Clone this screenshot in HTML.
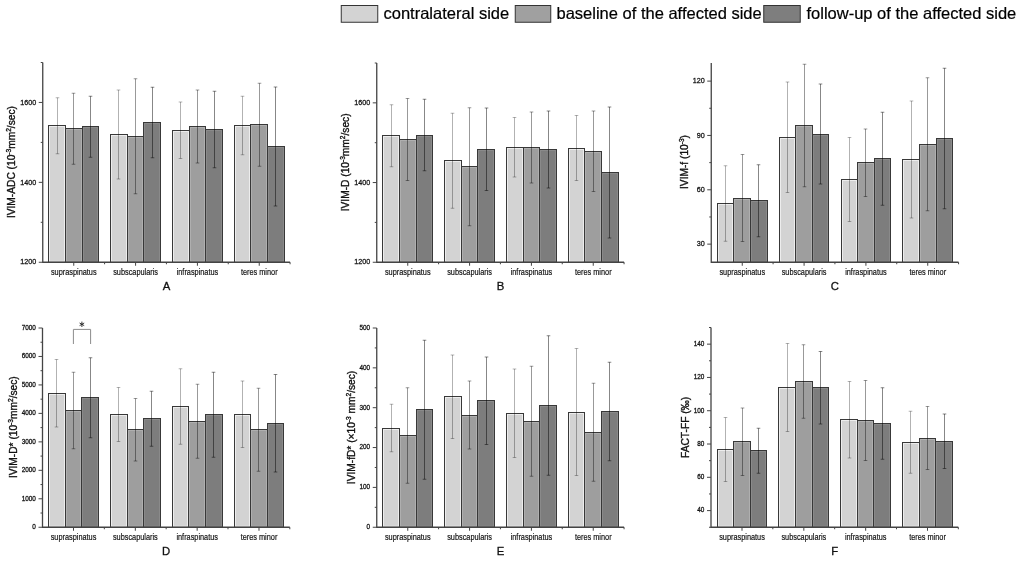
<!DOCTYPE html>
<html><head><meta charset="utf-8"><style>
html,body{margin:0;padding:0;background:#fff;}
svg{display:block;will-change:transform;}
text{font-family:"Liberation Sans",sans-serif;fill:#111;stroke:#111;stroke-width:0.25px;}
.tl{}
.cl{font-size:7.35px;stroke-width:0.15px;}
.lt{font-size:11.3px;stroke-width:0.3px;}
.yt{font-size:10.2px;stroke-width:0.35px;}
.lg{font-size:16.5px;fill:#000;stroke:#000;stroke-width:0.2px;}
.ast{font-size:11px;}
</style></head><body>
<svg width="1022" height="561" viewBox="0 0 1022 561">
<rect width="1022" height="561" fill="#fff"/>

<rect x="341.25" y="5.5" width="36.5" height="16.75" fill="#d3d3d3" stroke="#333" stroke-width="1"/>
<text x="383.5" y="19.3" class="lg">contralateral side</text>
<rect x="515.25" y="5.5" width="35.5" height="16.75" fill="#a0a0a0" stroke="#333" stroke-width="1"/>
<text x="556.5" y="19.3" class="lg">baseline of the affected side</text>
<rect x="763.75" y="5.5" width="36.5" height="16.75" fill="#7e7e7e" stroke="#333" stroke-width="1"/>
<text x="806.5" y="19.3" class="lg">follow-up of the affected side</text>


<path d="M73.4 344V329.4H90.6V344" stroke="#8c8c8c" stroke-width="1" fill="none"/>
<path d="M81.9 321.6V327M79.6 323L84.2 325.6M79.6 325.6L84.2 323" stroke="#222" stroke-width="0.9" fill="none"/>

<rect x="48.50" y="125.50" width="17.00" height="136.75" fill="#d3d3d3" stroke="#383838" stroke-width="1"/>
<rect x="49.50" y="126.50" width="15.00" height="134.75" fill="none" stroke="#fff" stroke-opacity="0.6" stroke-width="1"/>
<rect x="65.50" y="128.50" width="17.00" height="133.75" fill="#9e9e9e" stroke="#383838" stroke-width="1"/>
<rect x="66.50" y="129.50" width="15.00" height="131.75" fill="none" stroke="#fff" stroke-opacity="0.18" stroke-width="1"/>
<rect x="82.50" y="126.50" width="16.00" height="135.75" fill="#7d7d7d" stroke="#383838" stroke-width="1"/>
<rect x="83.50" y="127.50" width="14.00" height="133.75" fill="none" stroke="#fff" stroke-opacity="0.1" stroke-width="1"/>
<rect x="110.50" y="134.50" width="17.00" height="127.75" fill="#d3d3d3" stroke="#383838" stroke-width="1"/>
<rect x="111.50" y="135.50" width="15.00" height="125.75" fill="none" stroke="#fff" stroke-opacity="0.6" stroke-width="1"/>
<rect x="127.50" y="136.50" width="16.00" height="125.75" fill="#9e9e9e" stroke="#383838" stroke-width="1"/>
<rect x="128.50" y="137.50" width="14.00" height="123.75" fill="none" stroke="#fff" stroke-opacity="0.18" stroke-width="1"/>
<rect x="143.50" y="122.50" width="17.00" height="139.75" fill="#7d7d7d" stroke="#383838" stroke-width="1"/>
<rect x="144.50" y="123.50" width="15.00" height="137.75" fill="none" stroke="#fff" stroke-opacity="0.1" stroke-width="1"/>
<rect x="172.50" y="130.50" width="17.00" height="131.75" fill="#d3d3d3" stroke="#383838" stroke-width="1"/>
<rect x="173.50" y="131.50" width="15.00" height="129.75" fill="none" stroke="#fff" stroke-opacity="0.6" stroke-width="1"/>
<rect x="189.50" y="126.50" width="16.00" height="135.75" fill="#9e9e9e" stroke="#383838" stroke-width="1"/>
<rect x="190.50" y="127.50" width="14.00" height="133.75" fill="none" stroke="#fff" stroke-opacity="0.18" stroke-width="1"/>
<rect x="205.50" y="129.50" width="17.00" height="132.75" fill="#7d7d7d" stroke="#383838" stroke-width="1"/>
<rect x="206.50" y="130.50" width="15.00" height="130.75" fill="none" stroke="#fff" stroke-opacity="0.1" stroke-width="1"/>
<rect x="234.50" y="125.50" width="16.00" height="136.75" fill="#d3d3d3" stroke="#383838" stroke-width="1"/>
<rect x="235.50" y="126.50" width="14.00" height="134.75" fill="none" stroke="#fff" stroke-opacity="0.6" stroke-width="1"/>
<rect x="250.50" y="124.50" width="17.00" height="137.75" fill="#9e9e9e" stroke="#383838" stroke-width="1"/>
<rect x="251.50" y="125.50" width="15.00" height="135.75" fill="none" stroke="#fff" stroke-opacity="0.18" stroke-width="1"/>
<rect x="267.50" y="146.50" width="17.00" height="115.75" fill="#7d7d7d" stroke="#383838" stroke-width="1"/>
<rect x="268.50" y="147.50" width="15.00" height="113.75" fill="none" stroke="#fff" stroke-opacity="0.1" stroke-width="1"/>
<path d="M57.50 97.75V153.75M55.70 97.75H59.30M55.70 153.75H59.30" stroke="#000" stroke-opacity="0.3" stroke-width="1" fill="none"/>
<path d="M73.50 93.25V164.25M71.70 93.25H75.30M71.70 164.25H75.30" stroke="#000" stroke-opacity="0.4" stroke-width="1" fill="none"/>
<path d="M90.50 96.25V157.25M88.70 96.25H92.30M88.70 157.25H92.30" stroke="#000" stroke-opacity="0.47" stroke-width="1" fill="none"/>
<path d="M118.50 90.00V179.00M116.70 90.00H120.30M116.70 179.00H120.30" stroke="#000" stroke-opacity="0.3" stroke-width="1" fill="none"/>
<path d="M135.50 78.75V193.75M133.70 78.75H137.30M133.70 193.75H137.30" stroke="#000" stroke-opacity="0.4" stroke-width="1" fill="none"/>
<path d="M152.50 87.25V157.75M150.70 87.25H154.30M150.70 157.75H154.30" stroke="#000" stroke-opacity="0.47" stroke-width="1" fill="none"/>
<path d="M180.50 102.00V158.50M178.70 102.00H182.30M178.70 158.50H182.30" stroke="#000" stroke-opacity="0.3" stroke-width="1" fill="none"/>
<path d="M197.50 90.00V163.00M195.70 90.00H199.30M195.70 163.00H199.30" stroke="#000" stroke-opacity="0.4" stroke-width="1" fill="none"/>
<path d="M214.50 91.25V167.75M212.70 91.25H216.30M212.70 167.75H216.30" stroke="#000" stroke-opacity="0.47" stroke-width="1" fill="none"/>
<path d="M242.50 96.25V154.75M240.70 96.25H244.30M240.70 154.75H244.30" stroke="#000" stroke-opacity="0.3" stroke-width="1" fill="none"/>
<path d="M259.50 83.25V166.25M257.70 83.25H261.30M257.70 166.25H261.30" stroke="#000" stroke-opacity="0.4" stroke-width="1" fill="none"/>
<path d="M275.50 87.00V206.00M273.70 87.00H277.30M273.70 206.00H277.30" stroke="#000" stroke-opacity="0.47" stroke-width="1" fill="none"/>
<path d="M42.75 62.50V262.25H290.07" stroke="#444" stroke-width="1.3" fill="none"/>
<path d="M38.75 262.25H42.75" stroke="#444" stroke-width="1"/>
<text transform="translate(36.15 264.44) scale(1 1.12)" class="tl" font-size="7.2" text-anchor="end">1200</text>
<path d="M40.75 222.30H42.75" stroke="#444" stroke-width="1"/>
<path d="M38.75 182.35H42.75" stroke="#444" stroke-width="1"/>
<text transform="translate(36.15 184.54) scale(1 1.12)" class="tl" font-size="7.2" text-anchor="end">1400</text>
<path d="M40.75 142.40H42.75" stroke="#444" stroke-width="1"/>
<path d="M38.75 102.45H42.75" stroke="#444" stroke-width="1"/>
<text transform="translate(36.15 104.64) scale(1 1.12)" class="tl" font-size="7.2" text-anchor="end">1600</text>
<path d="M40.75 62.50H42.75" stroke="#444" stroke-width="1"/>
<path d="M73.75 262.25V265.75" stroke="#444" stroke-width="1"/>
<path d="M104.58 262.25V264.25" stroke="#444" stroke-width="1"/>
<text transform="translate(73.75 274.75) scale(1 1.25)" class="cl" text-anchor="middle">supraspinatus</text>
<path d="M135.58 262.25V265.75" stroke="#444" stroke-width="1"/>
<path d="M166.41 262.25V264.25" stroke="#444" stroke-width="1"/>
<text transform="translate(135.58 274.75) scale(1 1.25)" class="cl" text-anchor="middle">subscapularis</text>
<path d="M197.41 262.25V265.75" stroke="#444" stroke-width="1"/>
<path d="M228.24 262.25V264.25" stroke="#444" stroke-width="1"/>
<text transform="translate(197.41 274.75) scale(1 1.25)" class="cl" text-anchor="middle">infraspinatus</text>
<path d="M259.24 262.25V265.75" stroke="#444" stroke-width="1"/>
<path d="M290.07 262.25V264.25" stroke="#444" stroke-width="1"/>
<text transform="translate(259.24 274.75) scale(1 1.25)" class="cl" text-anchor="middle">teres minor</text>
<text x="166.41" y="290.00" class="lt" text-anchor="middle">A</text>
<text transform="translate(15.30 162.10) rotate(-90)" class="yt" text-anchor="middle">IVIM-ADC (10<tspan baseline-shift="3.7" font-size="6.6">-3</tspan>mm<tspan baseline-shift="3.7" font-size="6.6">2</tspan>/sec)</text><rect x="382.50" y="135.50" width="17.00" height="126.75" fill="#d3d3d3" stroke="#383838" stroke-width="1"/>
<rect x="383.50" y="136.50" width="15.00" height="124.75" fill="none" stroke="#fff" stroke-opacity="0.6" stroke-width="1"/>
<rect x="399.50" y="139.50" width="17.00" height="122.75" fill="#9e9e9e" stroke="#383838" stroke-width="1"/>
<rect x="400.50" y="140.50" width="15.00" height="120.75" fill="none" stroke="#fff" stroke-opacity="0.18" stroke-width="1"/>
<rect x="416.50" y="135.50" width="16.00" height="126.75" fill="#7d7d7d" stroke="#383838" stroke-width="1"/>
<rect x="417.50" y="136.50" width="14.00" height="124.75" fill="none" stroke="#fff" stroke-opacity="0.1" stroke-width="1"/>
<rect x="444.50" y="160.50" width="17.00" height="101.75" fill="#d3d3d3" stroke="#383838" stroke-width="1"/>
<rect x="445.50" y="161.50" width="15.00" height="99.75" fill="none" stroke="#fff" stroke-opacity="0.6" stroke-width="1"/>
<rect x="461.50" y="166.50" width="16.00" height="95.75" fill="#9e9e9e" stroke="#383838" stroke-width="1"/>
<rect x="462.50" y="167.50" width="14.00" height="93.75" fill="none" stroke="#fff" stroke-opacity="0.18" stroke-width="1"/>
<rect x="477.50" y="149.50" width="17.00" height="112.75" fill="#7d7d7d" stroke="#383838" stroke-width="1"/>
<rect x="478.50" y="150.50" width="15.00" height="110.75" fill="none" stroke="#fff" stroke-opacity="0.1" stroke-width="1"/>
<rect x="506.50" y="147.50" width="17.00" height="114.75" fill="#d3d3d3" stroke="#383838" stroke-width="1"/>
<rect x="507.50" y="148.50" width="15.00" height="112.75" fill="none" stroke="#fff" stroke-opacity="0.6" stroke-width="1"/>
<rect x="523.50" y="147.50" width="16.00" height="114.75" fill="#9e9e9e" stroke="#383838" stroke-width="1"/>
<rect x="524.50" y="148.50" width="14.00" height="112.75" fill="none" stroke="#fff" stroke-opacity="0.18" stroke-width="1"/>
<rect x="539.50" y="149.50" width="17.00" height="112.75" fill="#7d7d7d" stroke="#383838" stroke-width="1"/>
<rect x="540.50" y="150.50" width="15.00" height="110.75" fill="none" stroke="#fff" stroke-opacity="0.1" stroke-width="1"/>
<rect x="568.50" y="148.50" width="16.00" height="113.75" fill="#d3d3d3" stroke="#383838" stroke-width="1"/>
<rect x="569.50" y="149.50" width="14.00" height="111.75" fill="none" stroke="#fff" stroke-opacity="0.6" stroke-width="1"/>
<rect x="584.50" y="151.50" width="17.00" height="110.75" fill="#9e9e9e" stroke="#383838" stroke-width="1"/>
<rect x="585.50" y="152.50" width="15.00" height="108.75" fill="none" stroke="#fff" stroke-opacity="0.18" stroke-width="1"/>
<rect x="601.50" y="172.50" width="17.00" height="89.75" fill="#7d7d7d" stroke="#383838" stroke-width="1"/>
<rect x="602.50" y="173.50" width="15.00" height="87.75" fill="none" stroke="#fff" stroke-opacity="0.1" stroke-width="1"/>
<path d="M391.50 104.75V166.75M389.70 104.75H393.30M389.70 166.75H393.30" stroke="#000" stroke-opacity="0.3" stroke-width="1" fill="none"/>
<path d="M407.50 98.50V180.50M405.70 98.50H409.30M405.70 180.50H409.30" stroke="#000" stroke-opacity="0.4" stroke-width="1" fill="none"/>
<path d="M424.50 99.25V170.75M422.70 99.25H426.30M422.70 170.75H426.30" stroke="#000" stroke-opacity="0.47" stroke-width="1" fill="none"/>
<path d="M452.50 113.25V208.25M450.70 113.25H454.30M450.70 208.25H454.30" stroke="#000" stroke-opacity="0.3" stroke-width="1" fill="none"/>
<path d="M469.50 107.75V225.75M467.70 107.75H471.30M467.70 225.75H471.30" stroke="#000" stroke-opacity="0.4" stroke-width="1" fill="none"/>
<path d="M486.50 108.00V190.50M484.70 108.00H488.30M484.70 190.50H488.30" stroke="#000" stroke-opacity="0.47" stroke-width="1" fill="none"/>
<path d="M514.50 117.50V177.00M512.70 117.50H516.30M512.70 177.00H516.30" stroke="#000" stroke-opacity="0.3" stroke-width="1" fill="none"/>
<path d="M531.50 112.00V183.00M529.70 112.00H533.30M529.70 183.00H533.30" stroke="#000" stroke-opacity="0.4" stroke-width="1" fill="none"/>
<path d="M548.50 111.00V188.00M546.70 111.00H550.30M546.70 188.00H550.30" stroke="#000" stroke-opacity="0.47" stroke-width="1" fill="none"/>
<path d="M576.50 115.50V180.50M574.70 115.50H578.30M574.70 180.50H578.30" stroke="#000" stroke-opacity="0.3" stroke-width="1" fill="none"/>
<path d="M593.50 111.00V191.50M591.70 111.00H595.30M591.70 191.50H595.30" stroke="#000" stroke-opacity="0.4" stroke-width="1" fill="none"/>
<path d="M609.50 107.00V238.00M607.70 107.00H611.30M607.70 238.00H611.30" stroke="#000" stroke-opacity="0.47" stroke-width="1" fill="none"/>
<path d="M376.75 63.00V262.25H624.07" stroke="#444" stroke-width="1.3" fill="none"/>
<path d="M372.75 262.25H376.75" stroke="#444" stroke-width="1"/>
<text transform="translate(370.15 264.44) scale(1 1.12)" class="tl" font-size="7.2" text-anchor="end">1200</text>
<path d="M374.75 222.40H376.75" stroke="#444" stroke-width="1"/>
<path d="M372.75 182.55H376.75" stroke="#444" stroke-width="1"/>
<text transform="translate(370.15 184.74) scale(1 1.12)" class="tl" font-size="7.2" text-anchor="end">1400</text>
<path d="M374.75 142.70H376.75" stroke="#444" stroke-width="1"/>
<path d="M372.75 102.85H376.75" stroke="#444" stroke-width="1"/>
<text transform="translate(370.15 105.04) scale(1 1.12)" class="tl" font-size="7.2" text-anchor="end">1600</text>
<path d="M374.75 63.00H376.75" stroke="#444" stroke-width="1"/>
<path d="M407.75 262.25V265.75" stroke="#444" stroke-width="1"/>
<path d="M438.58 262.25V264.25" stroke="#444" stroke-width="1"/>
<text transform="translate(407.75 274.75) scale(1 1.25)" class="cl" text-anchor="middle">supraspinatus</text>
<path d="M469.58 262.25V265.75" stroke="#444" stroke-width="1"/>
<path d="M500.41 262.25V264.25" stroke="#444" stroke-width="1"/>
<text transform="translate(469.58 274.75) scale(1 1.25)" class="cl" text-anchor="middle">subscapularis</text>
<path d="M531.41 262.25V265.75" stroke="#444" stroke-width="1"/>
<path d="M562.24 262.25V264.25" stroke="#444" stroke-width="1"/>
<text transform="translate(531.41 274.75) scale(1 1.25)" class="cl" text-anchor="middle">infraspinatus</text>
<path d="M593.24 262.25V265.75" stroke="#444" stroke-width="1"/>
<path d="M624.07 262.25V264.25" stroke="#444" stroke-width="1"/>
<text transform="translate(593.24 274.75) scale(1 1.25)" class="cl" text-anchor="middle">teres minor</text>
<text x="500.41" y="290.00" class="lt" text-anchor="middle">B</text>
<text transform="translate(349.40 162.35) rotate(-90)" class="yt" text-anchor="middle">IVIM-D (10<tspan baseline-shift="3.7" font-size="6.6">-3</tspan>mm<tspan baseline-shift="3.7" font-size="6.6">2</tspan>/sec)</text><rect x="717.50" y="203.50" width="16.00" height="58.75" fill="#d3d3d3" stroke="#383838" stroke-width="1"/>
<rect x="718.50" y="204.50" width="14.00" height="56.75" fill="none" stroke="#fff" stroke-opacity="0.6" stroke-width="1"/>
<rect x="733.50" y="198.50" width="17.00" height="63.75" fill="#9e9e9e" stroke="#383838" stroke-width="1"/>
<rect x="734.50" y="199.50" width="15.00" height="61.75" fill="none" stroke="#fff" stroke-opacity="0.18" stroke-width="1"/>
<rect x="750.50" y="200.50" width="17.00" height="61.75" fill="#7d7d7d" stroke="#383838" stroke-width="1"/>
<rect x="751.50" y="201.50" width="15.00" height="59.75" fill="none" stroke="#fff" stroke-opacity="0.1" stroke-width="1"/>
<rect x="779.50" y="137.50" width="16.00" height="124.75" fill="#d3d3d3" stroke="#383838" stroke-width="1"/>
<rect x="780.50" y="138.50" width="14.00" height="122.75" fill="none" stroke="#fff" stroke-opacity="0.6" stroke-width="1"/>
<rect x="795.50" y="125.50" width="17.00" height="136.75" fill="#9e9e9e" stroke="#383838" stroke-width="1"/>
<rect x="796.50" y="126.50" width="15.00" height="134.75" fill="none" stroke="#fff" stroke-opacity="0.18" stroke-width="1"/>
<rect x="812.50" y="134.50" width="16.00" height="127.75" fill="#7d7d7d" stroke="#383838" stroke-width="1"/>
<rect x="813.50" y="135.50" width="14.00" height="125.75" fill="none" stroke="#fff" stroke-opacity="0.1" stroke-width="1"/>
<rect x="841.50" y="179.50" width="16.00" height="82.75" fill="#d3d3d3" stroke="#383838" stroke-width="1"/>
<rect x="842.50" y="180.50" width="14.00" height="80.75" fill="none" stroke="#fff" stroke-opacity="0.6" stroke-width="1"/>
<rect x="857.50" y="162.50" width="17.00" height="99.75" fill="#9e9e9e" stroke="#383838" stroke-width="1"/>
<rect x="858.50" y="163.50" width="15.00" height="97.75" fill="none" stroke="#fff" stroke-opacity="0.18" stroke-width="1"/>
<rect x="874.50" y="158.50" width="16.00" height="103.75" fill="#7d7d7d" stroke="#383838" stroke-width="1"/>
<rect x="875.50" y="159.50" width="14.00" height="101.75" fill="none" stroke="#fff" stroke-opacity="0.1" stroke-width="1"/>
<rect x="902.50" y="159.50" width="17.00" height="102.75" fill="#d3d3d3" stroke="#383838" stroke-width="1"/>
<rect x="903.50" y="160.50" width="15.00" height="100.75" fill="none" stroke="#fff" stroke-opacity="0.6" stroke-width="1"/>
<rect x="919.50" y="144.50" width="17.00" height="117.75" fill="#9e9e9e" stroke="#383838" stroke-width="1"/>
<rect x="920.50" y="145.50" width="15.00" height="115.75" fill="none" stroke="#fff" stroke-opacity="0.18" stroke-width="1"/>
<rect x="936.50" y="138.50" width="16.00" height="123.75" fill="#7d7d7d" stroke="#383838" stroke-width="1"/>
<rect x="937.50" y="139.50" width="14.00" height="121.75" fill="none" stroke="#fff" stroke-opacity="0.1" stroke-width="1"/>
<path d="M725.50 165.75V241.25M723.70 165.75H727.30M723.70 241.25H727.30" stroke="#000" stroke-opacity="0.3" stroke-width="1" fill="none"/>
<path d="M742.50 154.50V241.50M740.70 154.50H744.30M740.70 241.50H744.30" stroke="#000" stroke-opacity="0.4" stroke-width="1" fill="none"/>
<path d="M758.50 164.75V236.75M756.70 164.75H760.30M756.70 236.75H760.30" stroke="#000" stroke-opacity="0.47" stroke-width="1" fill="none"/>
<path d="M787.50 82.00V192.50M785.70 82.00H789.30M785.70 192.50H789.30" stroke="#000" stroke-opacity="0.3" stroke-width="1" fill="none"/>
<path d="M804.50 64.25V186.75M802.70 64.25H806.30M802.70 186.75H806.30" stroke="#000" stroke-opacity="0.4" stroke-width="1" fill="none"/>
<path d="M820.50 84.00V184.00M818.70 84.00H822.30M818.70 184.00H822.30" stroke="#000" stroke-opacity="0.47" stroke-width="1" fill="none"/>
<path d="M849.50 137.50V221.50M847.70 137.50H851.30M847.70 221.50H851.30" stroke="#000" stroke-opacity="0.3" stroke-width="1" fill="none"/>
<path d="M865.50 129.00V196.50M863.70 129.00H867.30M863.70 196.50H867.30" stroke="#000" stroke-opacity="0.4" stroke-width="1" fill="none"/>
<path d="M882.50 112.25V205.25M880.70 112.25H884.30M880.70 205.25H884.30" stroke="#000" stroke-opacity="0.47" stroke-width="1" fill="none"/>
<path d="M911.50 101.00V218.00M909.70 101.00H913.30M909.70 218.00H913.30" stroke="#000" stroke-opacity="0.3" stroke-width="1" fill="none"/>
<path d="M927.50 77.75V210.75M925.70 77.75H929.30M925.70 210.75H929.30" stroke="#000" stroke-opacity="0.4" stroke-width="1" fill="none"/>
<path d="M944.50 68.25V208.75M942.70 68.25H946.30M942.70 208.75H946.30" stroke="#000" stroke-opacity="0.47" stroke-width="1" fill="none"/>
<path d="M711.25 63.00V262.25H958.57" stroke="#444" stroke-width="1.3" fill="none"/>
<path d="M707.25 244.14H711.25" stroke="#444" stroke-width="1"/>
<text transform="translate(704.65 246.32) scale(1 1.12)" class="tl" font-size="7.2" text-anchor="end">30</text>
<path d="M709.25 216.97H711.25" stroke="#444" stroke-width="1"/>
<path d="M707.25 189.80H711.25" stroke="#444" stroke-width="1"/>
<text transform="translate(704.65 191.98) scale(1 1.12)" class="tl" font-size="7.2" text-anchor="end">60</text>
<path d="M709.25 162.62H711.25" stroke="#444" stroke-width="1"/>
<path d="M707.25 135.45H711.25" stroke="#444" stroke-width="1"/>
<text transform="translate(704.65 137.64) scale(1 1.12)" class="tl" font-size="7.2" text-anchor="end">90</text>
<path d="M709.25 108.28H711.25" stroke="#444" stroke-width="1"/>
<path d="M707.25 81.11H711.25" stroke="#444" stroke-width="1"/>
<text transform="translate(704.65 83.30) scale(1 1.12)" class="tl" font-size="7.2" text-anchor="end">120</text>
<path d="M742.25 262.25V265.75" stroke="#444" stroke-width="1"/>
<path d="M773.08 262.25V264.25" stroke="#444" stroke-width="1"/>
<text transform="translate(742.25 274.75) scale(1 1.25)" class="cl" text-anchor="middle">supraspinatus</text>
<path d="M804.08 262.25V265.75" stroke="#444" stroke-width="1"/>
<path d="M834.91 262.25V264.25" stroke="#444" stroke-width="1"/>
<text transform="translate(804.08 274.75) scale(1 1.25)" class="cl" text-anchor="middle">subscapularis</text>
<path d="M865.91 262.25V265.75" stroke="#444" stroke-width="1"/>
<path d="M896.74 262.25V264.25" stroke="#444" stroke-width="1"/>
<text transform="translate(865.91 274.75) scale(1 1.25)" class="cl" text-anchor="middle">infraspinatus</text>
<path d="M927.74 262.25V265.75" stroke="#444" stroke-width="1"/>
<path d="M958.57 262.25V264.25" stroke="#444" stroke-width="1"/>
<text transform="translate(927.74 274.75) scale(1 1.25)" class="cl" text-anchor="middle">teres minor</text>
<text x="834.91" y="290.00" class="lt" text-anchor="middle">C</text>
<text transform="translate(687.50 162.00) rotate(-90)" class="yt" text-anchor="middle">IVIM-f (10<tspan baseline-shift="3.7" font-size="6.6">-3</tspan>)</text><rect x="48.50" y="393.50" width="17.00" height="133.75" fill="#d3d3d3" stroke="#383838" stroke-width="1"/>
<rect x="49.50" y="394.50" width="15.00" height="131.75" fill="none" stroke="#fff" stroke-opacity="0.6" stroke-width="1"/>
<rect x="65.50" y="410.50" width="16.00" height="116.75" fill="#9e9e9e" stroke="#383838" stroke-width="1"/>
<rect x="66.50" y="411.50" width="14.00" height="114.75" fill="none" stroke="#fff" stroke-opacity="0.18" stroke-width="1"/>
<rect x="81.50" y="397.50" width="17.00" height="129.75" fill="#7d7d7d" stroke="#383838" stroke-width="1"/>
<rect x="82.50" y="398.50" width="15.00" height="127.75" fill="none" stroke="#fff" stroke-opacity="0.1" stroke-width="1"/>
<rect x="110.50" y="414.50" width="17.00" height="112.75" fill="#d3d3d3" stroke="#383838" stroke-width="1"/>
<rect x="111.50" y="415.50" width="15.00" height="110.75" fill="none" stroke="#fff" stroke-opacity="0.6" stroke-width="1"/>
<rect x="127.50" y="429.50" width="16.00" height="97.75" fill="#9e9e9e" stroke="#383838" stroke-width="1"/>
<rect x="128.50" y="430.50" width="14.00" height="95.75" fill="none" stroke="#fff" stroke-opacity="0.18" stroke-width="1"/>
<rect x="143.50" y="418.50" width="17.00" height="108.75" fill="#7d7d7d" stroke="#383838" stroke-width="1"/>
<rect x="144.50" y="419.50" width="15.00" height="106.75" fill="none" stroke="#fff" stroke-opacity="0.1" stroke-width="1"/>
<rect x="172.50" y="406.50" width="16.00" height="120.75" fill="#d3d3d3" stroke="#383838" stroke-width="1"/>
<rect x="173.50" y="407.50" width="14.00" height="118.75" fill="none" stroke="#fff" stroke-opacity="0.6" stroke-width="1"/>
<rect x="188.50" y="421.50" width="17.00" height="105.75" fill="#9e9e9e" stroke="#383838" stroke-width="1"/>
<rect x="189.50" y="422.50" width="15.00" height="103.75" fill="none" stroke="#fff" stroke-opacity="0.18" stroke-width="1"/>
<rect x="205.50" y="414.50" width="17.00" height="112.75" fill="#7d7d7d" stroke="#383838" stroke-width="1"/>
<rect x="206.50" y="415.50" width="15.00" height="110.75" fill="none" stroke="#fff" stroke-opacity="0.1" stroke-width="1"/>
<rect x="234.50" y="414.50" width="16.00" height="112.75" fill="#d3d3d3" stroke="#383838" stroke-width="1"/>
<rect x="235.50" y="415.50" width="14.00" height="110.75" fill="none" stroke="#fff" stroke-opacity="0.6" stroke-width="1"/>
<rect x="250.50" y="429.50" width="17.00" height="97.75" fill="#9e9e9e" stroke="#383838" stroke-width="1"/>
<rect x="251.50" y="430.50" width="15.00" height="95.75" fill="none" stroke="#fff" stroke-opacity="0.18" stroke-width="1"/>
<rect x="267.50" y="423.50" width="16.00" height="103.75" fill="#7d7d7d" stroke="#383838" stroke-width="1"/>
<rect x="268.50" y="424.50" width="14.00" height="101.75" fill="none" stroke="#fff" stroke-opacity="0.1" stroke-width="1"/>
<path d="M56.50 359.50V427.00M54.70 359.50H58.30M54.70 427.00H58.30" stroke="#000" stroke-opacity="0.3" stroke-width="1" fill="none"/>
<path d="M73.50 372.25V448.75M71.70 372.25H75.30M71.70 448.75H75.30" stroke="#000" stroke-opacity="0.4" stroke-width="1" fill="none"/>
<path d="M90.50 357.75V437.75M88.70 357.75H92.30M88.70 437.75H92.30" stroke="#000" stroke-opacity="0.47" stroke-width="1" fill="none"/>
<path d="M118.50 387.50V441.50M116.70 387.50H120.30M116.70 441.50H120.30" stroke="#000" stroke-opacity="0.3" stroke-width="1" fill="none"/>
<path d="M135.50 398.50V461.00M133.70 398.50H137.30M133.70 461.00H137.30" stroke="#000" stroke-opacity="0.4" stroke-width="1" fill="none"/>
<path d="M151.50 391.25V446.25M149.70 391.25H153.30M149.70 446.25H153.30" stroke="#000" stroke-opacity="0.47" stroke-width="1" fill="none"/>
<path d="M180.50 368.75V444.25M178.70 368.75H182.30M178.70 444.25H182.30" stroke="#000" stroke-opacity="0.3" stroke-width="1" fill="none"/>
<path d="M197.50 384.25V458.25M195.70 384.25H199.30M195.70 458.25H199.30" stroke="#000" stroke-opacity="0.4" stroke-width="1" fill="none"/>
<path d="M213.50 372.25V457.25M211.70 372.25H215.30M211.70 457.25H215.30" stroke="#000" stroke-opacity="0.47" stroke-width="1" fill="none"/>
<path d="M242.50 381.00V447.50M240.70 381.00H244.30M240.70 447.50H244.30" stroke="#000" stroke-opacity="0.3" stroke-width="1" fill="none"/>
<path d="M258.50 388.25V471.25M256.70 388.25H260.30M256.70 471.25H260.30" stroke="#000" stroke-opacity="0.4" stroke-width="1" fill="none"/>
<path d="M275.50 374.50V472.00M273.70 374.50H277.30M273.70 472.00H277.30" stroke="#000" stroke-opacity="0.47" stroke-width="1" fill="none"/>
<path d="M42.50 328.00V527.25H289.82" stroke="#444" stroke-width="1.3" fill="none"/>
<path d="M38.50 527.25H42.50" stroke="#444" stroke-width="1"/>
<text transform="translate(35.90 529.12) scale(1 1.12)" class="tl" font-size="6.4" text-anchor="end">0</text>
<path d="M40.50 513.02H42.50" stroke="#444" stroke-width="1"/>
<path d="M38.50 498.79H42.50" stroke="#444" stroke-width="1"/>
<text transform="translate(35.90 500.65) scale(1 1.12)" class="tl" font-size="6.4" text-anchor="end">1000</text>
<path d="M40.50 484.55H42.50" stroke="#444" stroke-width="1"/>
<path d="M38.50 470.32H42.50" stroke="#444" stroke-width="1"/>
<text transform="translate(35.90 472.19) scale(1 1.12)" class="tl" font-size="6.4" text-anchor="end">2000</text>
<path d="M40.50 456.09H42.50" stroke="#444" stroke-width="1"/>
<path d="M38.50 441.86H42.50" stroke="#444" stroke-width="1"/>
<text transform="translate(35.90 443.72) scale(1 1.12)" class="tl" font-size="6.4" text-anchor="end">3000</text>
<path d="M40.50 427.62H42.50" stroke="#444" stroke-width="1"/>
<path d="M38.50 413.39H42.50" stroke="#444" stroke-width="1"/>
<text transform="translate(35.90 415.26) scale(1 1.12)" class="tl" font-size="6.4" text-anchor="end">4000</text>
<path d="M40.50 399.16H42.50" stroke="#444" stroke-width="1"/>
<path d="M38.50 384.93H42.50" stroke="#444" stroke-width="1"/>
<text transform="translate(35.90 386.79) scale(1 1.12)" class="tl" font-size="6.4" text-anchor="end">5000</text>
<path d="M40.50 370.70H42.50" stroke="#444" stroke-width="1"/>
<path d="M38.50 356.46H42.50" stroke="#444" stroke-width="1"/>
<text transform="translate(35.90 358.33) scale(1 1.12)" class="tl" font-size="6.4" text-anchor="end">6000</text>
<path d="M40.50 342.23H42.50" stroke="#444" stroke-width="1"/>
<path d="M38.50 328.00H42.50" stroke="#444" stroke-width="1"/>
<text transform="translate(35.90 329.87) scale(1 1.12)" class="tl" font-size="6.4" text-anchor="end">7000</text>
<path d="M73.50 527.25V530.75" stroke="#444" stroke-width="1"/>
<path d="M104.33 527.25V529.25" stroke="#444" stroke-width="1"/>
<text transform="translate(73.50 539.75) scale(1 1.25)" class="cl" text-anchor="middle">supraspinatus</text>
<path d="M135.33 527.25V530.75" stroke="#444" stroke-width="1"/>
<path d="M166.16 527.25V529.25" stroke="#444" stroke-width="1"/>
<text transform="translate(135.33 539.75) scale(1 1.25)" class="cl" text-anchor="middle">subscapularis</text>
<path d="M197.16 527.25V530.75" stroke="#444" stroke-width="1"/>
<path d="M227.99 527.25V529.25" stroke="#444" stroke-width="1"/>
<text transform="translate(197.16 539.75) scale(1 1.25)" class="cl" text-anchor="middle">infraspinatus</text>
<path d="M258.99 527.25V530.75" stroke="#444" stroke-width="1"/>
<path d="M289.82 527.25V529.25" stroke="#444" stroke-width="1"/>
<text transform="translate(258.99 539.75) scale(1 1.25)" class="cl" text-anchor="middle">teres minor</text>
<text x="166.16" y="555.00" class="lt" text-anchor="middle">D</text>
<text transform="translate(17.20 427.20) rotate(-90)" class="yt" text-anchor="middle">IVIM-D* (10<tspan baseline-shift="3.7" font-size="6.6">-3</tspan>mm<tspan baseline-shift="3.7" font-size="6.6">2</tspan>/sec)</text><rect x="382.50" y="428.50" width="17.00" height="98.75" fill="#d3d3d3" stroke="#383838" stroke-width="1"/>
<rect x="383.50" y="429.50" width="15.00" height="96.75" fill="none" stroke="#fff" stroke-opacity="0.6" stroke-width="1"/>
<rect x="399.50" y="435.50" width="17.00" height="91.75" fill="#9e9e9e" stroke="#383838" stroke-width="1"/>
<rect x="400.50" y="436.50" width="15.00" height="89.75" fill="none" stroke="#fff" stroke-opacity="0.18" stroke-width="1"/>
<rect x="416.50" y="409.50" width="16.00" height="117.75" fill="#7d7d7d" stroke="#383838" stroke-width="1"/>
<rect x="417.50" y="410.50" width="14.00" height="115.75" fill="none" stroke="#fff" stroke-opacity="0.1" stroke-width="1"/>
<rect x="444.50" y="396.50" width="17.00" height="130.75" fill="#d3d3d3" stroke="#383838" stroke-width="1"/>
<rect x="445.50" y="397.50" width="15.00" height="128.75" fill="none" stroke="#fff" stroke-opacity="0.6" stroke-width="1"/>
<rect x="461.50" y="415.50" width="16.00" height="111.75" fill="#9e9e9e" stroke="#383838" stroke-width="1"/>
<rect x="462.50" y="416.50" width="14.00" height="109.75" fill="none" stroke="#fff" stroke-opacity="0.18" stroke-width="1"/>
<rect x="477.50" y="400.50" width="17.00" height="126.75" fill="#7d7d7d" stroke="#383838" stroke-width="1"/>
<rect x="478.50" y="401.50" width="15.00" height="124.75" fill="none" stroke="#fff" stroke-opacity="0.1" stroke-width="1"/>
<rect x="506.50" y="413.50" width="17.00" height="113.75" fill="#d3d3d3" stroke="#383838" stroke-width="1"/>
<rect x="507.50" y="414.50" width="15.00" height="111.75" fill="none" stroke="#fff" stroke-opacity="0.6" stroke-width="1"/>
<rect x="523.50" y="421.50" width="16.00" height="105.75" fill="#9e9e9e" stroke="#383838" stroke-width="1"/>
<rect x="524.50" y="422.50" width="14.00" height="103.75" fill="none" stroke="#fff" stroke-opacity="0.18" stroke-width="1"/>
<rect x="539.50" y="405.50" width="17.00" height="121.75" fill="#7d7d7d" stroke="#383838" stroke-width="1"/>
<rect x="540.50" y="406.50" width="15.00" height="119.75" fill="none" stroke="#fff" stroke-opacity="0.1" stroke-width="1"/>
<rect x="568.50" y="412.50" width="16.00" height="114.75" fill="#d3d3d3" stroke="#383838" stroke-width="1"/>
<rect x="569.50" y="413.50" width="14.00" height="112.75" fill="none" stroke="#fff" stroke-opacity="0.6" stroke-width="1"/>
<rect x="584.50" y="432.50" width="17.00" height="94.75" fill="#9e9e9e" stroke="#383838" stroke-width="1"/>
<rect x="585.50" y="433.50" width="15.00" height="92.75" fill="none" stroke="#fff" stroke-opacity="0.18" stroke-width="1"/>
<rect x="601.50" y="411.50" width="17.00" height="115.75" fill="#7d7d7d" stroke="#383838" stroke-width="1"/>
<rect x="602.50" y="412.50" width="15.00" height="113.75" fill="none" stroke="#fff" stroke-opacity="0.1" stroke-width="1"/>
<path d="M391.50 404.25V451.75M389.70 404.25H393.30M389.70 451.75H393.30" stroke="#000" stroke-opacity="0.3" stroke-width="1" fill="none"/>
<path d="M407.50 387.75V483.25M405.70 387.75H409.30M405.70 483.25H409.30" stroke="#000" stroke-opacity="0.4" stroke-width="1" fill="none"/>
<path d="M424.50 340.25V479.25M422.70 340.25H426.30M422.70 479.25H426.30" stroke="#000" stroke-opacity="0.47" stroke-width="1" fill="none"/>
<path d="M452.50 355.00V438.50M450.70 355.00H454.30M450.70 438.50H454.30" stroke="#000" stroke-opacity="0.3" stroke-width="1" fill="none"/>
<path d="M469.50 381.00V449.00M467.70 381.00H471.30M467.70 449.00H471.30" stroke="#000" stroke-opacity="0.4" stroke-width="1" fill="none"/>
<path d="M486.50 357.00V444.50M484.70 357.00H488.30M484.70 444.50H488.30" stroke="#000" stroke-opacity="0.47" stroke-width="1" fill="none"/>
<path d="M514.50 369.00V457.50M512.70 369.00H516.30M512.70 457.50H516.30" stroke="#000" stroke-opacity="0.3" stroke-width="1" fill="none"/>
<path d="M531.50 366.25V476.25M529.70 366.25H533.30M529.70 476.25H533.30" stroke="#000" stroke-opacity="0.4" stroke-width="1" fill="none"/>
<path d="M548.50 335.75V475.25M546.70 335.75H550.30M546.70 475.25H550.30" stroke="#000" stroke-opacity="0.47" stroke-width="1" fill="none"/>
<path d="M576.50 348.50V475.50M574.70 348.50H578.30M574.70 475.50H578.30" stroke="#000" stroke-opacity="0.3" stroke-width="1" fill="none"/>
<path d="M593.50 383.25V481.25M591.70 383.25H595.30M591.70 481.25H595.30" stroke="#000" stroke-opacity="0.4" stroke-width="1" fill="none"/>
<path d="M609.50 362.25V460.75M607.70 362.25H611.30M607.70 460.75H611.30" stroke="#000" stroke-opacity="0.47" stroke-width="1" fill="none"/>
<path d="M376.75 328.00V527.25H624.07" stroke="#444" stroke-width="1.3" fill="none"/>
<path d="M372.75 527.25H376.75" stroke="#444" stroke-width="1"/>
<text transform="translate(370.15 529.12) scale(1 1.12)" class="tl" font-size="6.4" text-anchor="end">0</text>
<path d="M374.75 507.32H376.75" stroke="#444" stroke-width="1"/>
<path d="M372.75 487.40H376.75" stroke="#444" stroke-width="1"/>
<text transform="translate(370.15 489.27) scale(1 1.12)" class="tl" font-size="6.4" text-anchor="end">100</text>
<path d="M374.75 467.48H376.75" stroke="#444" stroke-width="1"/>
<path d="M372.75 447.55H376.75" stroke="#444" stroke-width="1"/>
<text transform="translate(370.15 449.42) scale(1 1.12)" class="tl" font-size="6.4" text-anchor="end">200</text>
<path d="M374.75 427.62H376.75" stroke="#444" stroke-width="1"/>
<path d="M372.75 407.70H376.75" stroke="#444" stroke-width="1"/>
<text transform="translate(370.15 409.57) scale(1 1.12)" class="tl" font-size="6.4" text-anchor="end">300</text>
<path d="M374.75 387.77H376.75" stroke="#444" stroke-width="1"/>
<path d="M372.75 367.85H376.75" stroke="#444" stroke-width="1"/>
<text transform="translate(370.15 369.72) scale(1 1.12)" class="tl" font-size="6.4" text-anchor="end">400</text>
<path d="M374.75 347.92H376.75" stroke="#444" stroke-width="1"/>
<path d="M372.75 328.00H376.75" stroke="#444" stroke-width="1"/>
<text transform="translate(370.15 329.87) scale(1 1.12)" class="tl" font-size="6.4" text-anchor="end">500</text>
<path d="M407.75 527.25V530.75" stroke="#444" stroke-width="1"/>
<path d="M438.58 527.25V529.25" stroke="#444" stroke-width="1"/>
<text transform="translate(407.75 539.75) scale(1 1.25)" class="cl" text-anchor="middle">supraspinatus</text>
<path d="M469.58 527.25V530.75" stroke="#444" stroke-width="1"/>
<path d="M500.41 527.25V529.25" stroke="#444" stroke-width="1"/>
<text transform="translate(469.58 539.75) scale(1 1.25)" class="cl" text-anchor="middle">subscapularis</text>
<path d="M531.41 527.25V530.75" stroke="#444" stroke-width="1"/>
<path d="M562.24 527.25V529.25" stroke="#444" stroke-width="1"/>
<text transform="translate(531.41 539.75) scale(1 1.25)" class="cl" text-anchor="middle">infraspinatus</text>
<path d="M593.24 527.25V530.75" stroke="#444" stroke-width="1"/>
<path d="M624.07 527.25V529.25" stroke="#444" stroke-width="1"/>
<text transform="translate(593.24 539.75) scale(1 1.25)" class="cl" text-anchor="middle">teres minor</text>
<text x="500.41" y="555.00" class="lt" text-anchor="middle">E</text>
<text transform="translate(354.70 427.45) rotate(-90)" class="yt" text-anchor="middle">IVIM-fD* (×10<tspan baseline-shift="3.7" font-size="6.6">-3</tspan> mm<tspan baseline-shift="3.7" font-size="6.6">2</tspan>/sec)</text><rect x="717.50" y="449.50" width="16.00" height="77.75" fill="#d3d3d3" stroke="#383838" stroke-width="1"/>
<rect x="718.50" y="450.50" width="14.00" height="75.75" fill="none" stroke="#fff" stroke-opacity="0.6" stroke-width="1"/>
<rect x="733.50" y="441.50" width="17.00" height="85.75" fill="#9e9e9e" stroke="#383838" stroke-width="1"/>
<rect x="734.50" y="442.50" width="15.00" height="83.75" fill="none" stroke="#fff" stroke-opacity="0.18" stroke-width="1"/>
<rect x="750.50" y="450.50" width="16.00" height="76.75" fill="#7d7d7d" stroke="#383838" stroke-width="1"/>
<rect x="751.50" y="451.50" width="14.00" height="74.75" fill="none" stroke="#fff" stroke-opacity="0.1" stroke-width="1"/>
<rect x="778.50" y="387.50" width="17.00" height="139.75" fill="#d3d3d3" stroke="#383838" stroke-width="1"/>
<rect x="779.50" y="388.50" width="15.00" height="137.75" fill="none" stroke="#fff" stroke-opacity="0.6" stroke-width="1"/>
<rect x="795.50" y="381.50" width="17.00" height="145.75" fill="#9e9e9e" stroke="#383838" stroke-width="1"/>
<rect x="796.50" y="382.50" width="15.00" height="143.75" fill="none" stroke="#fff" stroke-opacity="0.18" stroke-width="1"/>
<rect x="812.50" y="387.50" width="16.00" height="139.75" fill="#7d7d7d" stroke="#383838" stroke-width="1"/>
<rect x="813.50" y="388.50" width="14.00" height="137.75" fill="none" stroke="#fff" stroke-opacity="0.1" stroke-width="1"/>
<rect x="840.50" y="419.50" width="17.00" height="107.75" fill="#d3d3d3" stroke="#383838" stroke-width="1"/>
<rect x="841.50" y="420.50" width="15.00" height="105.75" fill="none" stroke="#fff" stroke-opacity="0.6" stroke-width="1"/>
<rect x="857.50" y="420.50" width="16.00" height="106.75" fill="#9e9e9e" stroke="#383838" stroke-width="1"/>
<rect x="858.50" y="421.50" width="14.00" height="104.75" fill="none" stroke="#fff" stroke-opacity="0.18" stroke-width="1"/>
<rect x="873.50" y="423.50" width="17.00" height="103.75" fill="#7d7d7d" stroke="#383838" stroke-width="1"/>
<rect x="874.50" y="424.50" width="15.00" height="101.75" fill="none" stroke="#fff" stroke-opacity="0.1" stroke-width="1"/>
<rect x="902.50" y="442.50" width="17.00" height="84.75" fill="#d3d3d3" stroke="#383838" stroke-width="1"/>
<rect x="903.50" y="443.50" width="15.00" height="82.75" fill="none" stroke="#fff" stroke-opacity="0.6" stroke-width="1"/>
<rect x="919.50" y="438.50" width="16.00" height="88.75" fill="#9e9e9e" stroke="#383838" stroke-width="1"/>
<rect x="920.50" y="439.50" width="14.00" height="86.75" fill="none" stroke="#fff" stroke-opacity="0.18" stroke-width="1"/>
<rect x="935.50" y="441.50" width="17.00" height="85.75" fill="#7d7d7d" stroke="#383838" stroke-width="1"/>
<rect x="936.50" y="442.50" width="15.00" height="83.75" fill="none" stroke="#fff" stroke-opacity="0.1" stroke-width="1"/>
<path d="M725.50 417.50V481.50M723.70 417.50H727.30M723.70 481.50H727.30" stroke="#000" stroke-opacity="0.3" stroke-width="1" fill="none"/>
<path d="M742.50 408.00V475.50M740.70 408.00H744.30M740.70 475.50H744.30" stroke="#000" stroke-opacity="0.4" stroke-width="1" fill="none"/>
<path d="M758.50 428.25V473.25M756.70 428.25H760.30M756.70 473.25H760.30" stroke="#000" stroke-opacity="0.47" stroke-width="1" fill="none"/>
<path d="M787.50 343.50V431.50M785.70 343.50H789.30M785.70 431.50H789.30" stroke="#000" stroke-opacity="0.3" stroke-width="1" fill="none"/>
<path d="M803.50 344.75V418.25M801.70 344.75H805.30M801.70 418.25H805.30" stroke="#000" stroke-opacity="0.4" stroke-width="1" fill="none"/>
<path d="M820.50 351.50V424.00M818.70 351.50H822.30M818.70 424.00H822.30" stroke="#000" stroke-opacity="0.47" stroke-width="1" fill="none"/>
<path d="M849.50 381.50V458.00M847.70 381.50H851.30M847.70 458.00H851.30" stroke="#000" stroke-opacity="0.3" stroke-width="1" fill="none"/>
<path d="M865.50 380.50V460.50M863.70 380.50H867.30M863.70 460.50H867.30" stroke="#000" stroke-opacity="0.4" stroke-width="1" fill="none"/>
<path d="M882.50 387.75V459.25M880.70 387.75H884.30M880.70 459.25H884.30" stroke="#000" stroke-opacity="0.47" stroke-width="1" fill="none"/>
<path d="M910.50 411.25V473.25M908.70 411.25H912.30M908.70 473.25H912.30" stroke="#000" stroke-opacity="0.3" stroke-width="1" fill="none"/>
<path d="M927.50 406.50V469.50M925.70 406.50H929.30M925.70 469.50H929.30" stroke="#000" stroke-opacity="0.4" stroke-width="1" fill="none"/>
<path d="M944.50 414.00V468.50M942.70 414.00H946.30M942.70 468.50H946.30" stroke="#000" stroke-opacity="0.47" stroke-width="1" fill="none"/>
<path d="M711.00 327.50V527.25H958.32" stroke="#444" stroke-width="1.3" fill="none"/>
<path d="M709.00 527.25H711.00" stroke="#444" stroke-width="1"/>
<path d="M707.00 510.60H711.00" stroke="#444" stroke-width="1"/>
<text transform="translate(704.40 512.47) scale(1 1.12)" class="tl" font-size="6.4" text-anchor="end">40</text>
<path d="M709.00 493.96H711.00" stroke="#444" stroke-width="1"/>
<path d="M707.00 477.31H711.00" stroke="#444" stroke-width="1"/>
<text transform="translate(704.40 479.18) scale(1 1.12)" class="tl" font-size="6.4" text-anchor="end">60</text>
<path d="M709.00 460.67H711.00" stroke="#444" stroke-width="1"/>
<path d="M707.00 444.02H711.00" stroke="#444" stroke-width="1"/>
<text transform="translate(704.40 445.89) scale(1 1.12)" class="tl" font-size="6.4" text-anchor="end">80</text>
<path d="M709.00 427.38H711.00" stroke="#444" stroke-width="1"/>
<path d="M707.00 410.73H711.00" stroke="#444" stroke-width="1"/>
<text transform="translate(704.40 412.60) scale(1 1.12)" class="tl" font-size="6.4" text-anchor="end">100</text>
<path d="M709.00 394.08H711.00" stroke="#444" stroke-width="1"/>
<path d="M707.00 377.44H711.00" stroke="#444" stroke-width="1"/>
<text transform="translate(704.40 379.30) scale(1 1.12)" class="tl" font-size="6.4" text-anchor="end">120</text>
<path d="M709.00 360.79H711.00" stroke="#444" stroke-width="1"/>
<path d="M707.00 344.15H711.00" stroke="#444" stroke-width="1"/>
<text transform="translate(704.40 346.01) scale(1 1.12)" class="tl" font-size="6.4" text-anchor="end">140</text>
<path d="M709.00 327.50H711.00" stroke="#444" stroke-width="1"/>
<path d="M742.00 527.25V530.75" stroke="#444" stroke-width="1"/>
<path d="M772.83 527.25V529.25" stroke="#444" stroke-width="1"/>
<text transform="translate(742.00 539.75) scale(1 1.25)" class="cl" text-anchor="middle">supraspinatus</text>
<path d="M803.83 527.25V530.75" stroke="#444" stroke-width="1"/>
<path d="M834.66 527.25V529.25" stroke="#444" stroke-width="1"/>
<text transform="translate(803.83 539.75) scale(1 1.25)" class="cl" text-anchor="middle">subscapularis</text>
<path d="M865.66 527.25V530.75" stroke="#444" stroke-width="1"/>
<path d="M896.49 527.25V529.25" stroke="#444" stroke-width="1"/>
<text transform="translate(865.66 539.75) scale(1 1.25)" class="cl" text-anchor="middle">infraspinatus</text>
<path d="M927.49 527.25V530.75" stroke="#444" stroke-width="1"/>
<path d="M958.32 527.25V529.25" stroke="#444" stroke-width="1"/>
<text transform="translate(927.49 539.75) scale(1 1.25)" class="cl" text-anchor="middle">teres minor</text>
<text x="834.66" y="555.00" class="lt" text-anchor="middle">F</text>
<text transform="translate(689.00 427.40) rotate(-90)" class="yt" text-anchor="middle">FACT-FF (‰)</text>
</svg>
</body></html>
